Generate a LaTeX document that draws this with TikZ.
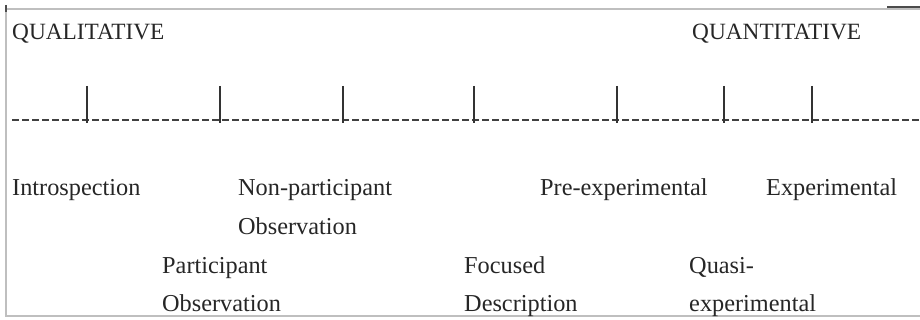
\documentclass[tikz,border=0pt]{standalone}
\usepackage{fontspec}
\setmainfont{Liberation Serif}
\begin{document}
\begin{tikzpicture}[x=1pt,y=-1pt,
  lbl/.style={anchor=base west,inner sep=0pt,font=\fontsize{24.3}{29}\selectfont,text=black!85},
  headlbl/.style={lbl,font=\fontsize{23.3}{28}\selectfont},
  tick/.style={line width=1.8pt,black!80},
  axis/.style={line width=1.2pt,black!75,dash pattern=on 7pt off 3pt},
  frame/.style={line width=1.2pt,black!25}]
\useasboundingbox (0,0) rectangle (920,320);
% frame
\draw[frame] (5,9) -- (920,9);
\draw[frame] (6,9) -- (6,316) -- (920,316);
\draw[line width=1.6pt,black!70] (6,5) -- (6,12);
\draw[line width=1.6pt,black!70] (887,7) -- (920,7);
% axis
\coordinate (a0) at (12,120);
\coordinate (a1) at (920,120);
\draw[axis] (a0) -- (a1);
\foreach \x in {87,220,343,474,617,724,812}
  \draw[tick] (\x,86) -- (\x,123);
% labels
\node[headlbl] (qual) at (12,40) {QUALITATIVE};
\node[headlbl] (quant) at (692,40) {QUANTITATIVE};
\node[lbl] (intro) at (12,196) {Introspection};
\node[lbl] (nonp) at (238,196) {Non-participant};
\node[lbl] (nonp2) at (238,235) {Observation};
\node[lbl] (part) at (162,273) {Participant};
\node[lbl] (part2) at (162,311) {Observation};
\node[lbl] (foc) at (464,273) {Focused};
\node[lbl] (foc2) at (464,311) {Description};
\node[lbl] (pre) at (540,196) {Pre-experimental};
\node[lbl] (exp) at (766,196) {Experimental};
\node[lbl] (quasi) at (689,273) {Quasi-};
\node[lbl] (quasi2) at (689,311) {experimental};
\end{tikzpicture}
\end{document}
